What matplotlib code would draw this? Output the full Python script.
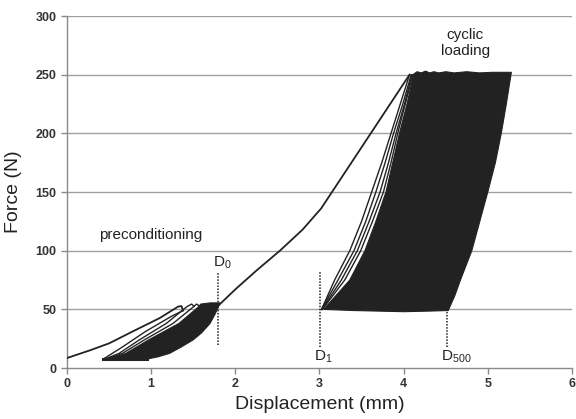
import matplotlib
matplotlib.use("Agg")
import matplotlib.pyplot as plt

plt.rcParams["font.family"] = ["Liberation Sans", "DejaVu Sans"]

INK = "#222222"
GRID = "#a0a0a0"
AXIS = "#8a8a8a"

# ── data (displacement mm, force N) ─────────────────────────────────────────

# first loading up to the first preconditioning peak
load0_x = [0.0, 0.27, 0.50, 0.79, 1.10, 1.32, 1.36, 1.38]
load0_y = [8.5, 15.0, 21.0, 31.5, 42.5, 52.3, 52.8, 49.0]

# a few separate preconditioning loops (before they merge)
pre1_x = [0.43, 0.65, 0.93, 1.24, 1.38]
pre1_y = [7.6, 17.5, 31.0, 44.0, 49.0]
pre2_x = [0.45, 0.62, 0.86, 1.18, 1.42, 1.48, 1.51]
pre2_y = [7.6, 12.5, 24.0, 38.0, 52.0, 54.5, 52.5]
pre3_x = [0.47, 0.66, 0.92, 1.26, 1.50, 1.54, 1.57]
pre3_y = [7.6, 12.5, 24.0, 38.0, 52.0, 54.5, 53.0]

# dense preconditioning band (outline)
pre_band_x = [0.48, 0.70, 0.97, 1.33, 1.56, 1.59, 1.70, 1.82,
              1.76, 1.70, 1.60, 1.50, 1.36, 1.22, 1.08, 0.95]
pre_band_y = [7.6, 12.5, 24.0, 38.0, 52.0, 54.5, 55.5, 55.5,
              46.0, 38.0, 30.0, 24.0, 18.0, 12.5, 9.5, 7.6]
pre_floor_x = [0.43, 0.95]
pre_floor_y = [7.6, 7.6]

# loading from D0 through the kink to the first cyclic peak
load1_x = [1.81, 2.00, 2.25, 2.53, 2.80, 3.02, 4.07]
load1_y = [54.0, 67.0, 83.0, 100.0, 118.0, 136.0, 250.0]

# first cyclic loops fanning out of D1
fan_y = [50, 75, 100, 125, 150, 175, 200, 225, 250]
fan1_x = [3.025, 3.18, 3.36, 3.50, 3.62, 3.74, 3.85, 3.96, 4.07]
fan2_x = [3.025, 3.22, 3.41, 3.55, 3.67, 3.78, 3.88, 3.99, 4.09]
fan3_x = [3.03, 3.26, 3.45, 3.59, 3.72, 3.82, 3.91, 4.01, 4.10]
fan4_x = [3.035, 3.30, 3.49, 3.63, 3.76, 3.85, 3.93, 4.02, 4.11]

# dense cyclic band (outline, counter-clockwise from D1 side)
cyc_band_x = [3.05, 3.36, 3.54, 3.67, 3.79, 3.87, 3.95, 4.04, 4.12,
              4.16, 4.21, 4.26, 4.31, 4.36, 4.42, 4.50, 4.60, 4.75, 4.90, 5.05, 5.28,
              5.22, 5.16, 5.09, 5.00, 4.905, 4.81, 4.675, 4.61, 4.53,
              4.30, 4.00, 3.70, 3.40]
cyc_band_y = [50.0, 75.0, 100.0, 125.0, 150.0, 175.0, 200.0, 225.0, 250.5,
              252.5, 251.5, 253.0, 251.5, 252.5, 251.5, 252.5, 251.5, 252.5, 251.5, 252.0, 252.0,
              225.0, 200.0, 175.0, 150.0, 125.0, 100.0, 75.0, 62.0, 49.0,
              48.5, 48.0, 48.5, 49.0]

# dotted markers and their labels
marks_x = [1.80, 3.01, 4.52]
marks_lo = [20, 18, 18]
marks_hi = [82, 82, 82]
mark_labels = [r"D$_{\mathregular{0}}$", r"D$_{\mathregular{1}}$", r"D$_{\mathregular{500}}$"]
mark_label_xy = [(1.84, 90), (3.04, 10), (4.63, 10)]

x_ticks = [0, 1, 2, 3, 4, 5, 6]
y_ticks = [0, 50, 100, 150, 200, 250, 300]

# ── figure ───────────────────────────────────────────────────────────────────

fig = plt.figure(figsize=(5.76, 4.19), dpi=100)
ax = fig.add_axes([0.1163, 0.1217, 0.8767, 0.8401])
ax.set_xlim(0, 6)
ax.set_ylim(0, 300)

for yv in y_ticks[1:]:
    ax.axhline(yv, color=GRID, lw=1.0, zorder=0)

ax.fill(pre_band_x, pre_band_y, color=INK, lw=0.8, zorder=2)
ax.plot(pre_floor_x, pre_floor_y, color=INK, lw=2.2, zorder=2)
for xs, ys in [(pre1_x, pre1_y), (pre2_x, pre2_y), (pre3_x, pre3_y)]:
    ax.plot(xs, ys, color=INK, lw=1.0, zorder=2)
ax.plot(load0_x, load0_y, color=INK, lw=1.3, zorder=3)
ax.plot(load1_x, load1_y, color=INK, lw=1.3, zorder=3)

ax.fill(cyc_band_x, cyc_band_y, color=INK, lw=0.8, zorder=2)
for xs in [fan1_x, fan2_x, fan3_x, fan4_x]:
    ax.plot(xs, fan_y, color=INK, lw=1.0, zorder=2)

for xv, lo, hi in zip(marks_x, marks_lo, marks_hi):
    ax.plot([xv, xv], [lo, hi], color=INK, lw=1.1, ls=(0, (1, 1)), zorder=4)
for lab, (tx, ty) in zip(mark_labels, mark_label_xy):
    ax.text(tx, ty, lab, ha="center", va="center", fontsize=11, color=INK)

ax.text(1.0, 113, "preconditioning", ha="center", va="center", fontsize=11, color=INK)
ax.text(4.73, 277, "cyclic\nloading", ha="center", va="center", fontsize=11,
        color=INK, linespacing=1.2)

ax.set_xticks(x_ticks)
ax.set_yticks(y_ticks)
ax.tick_params(colors=AXIS, labelcolor="#333333", labelsize=9, length=4, width=1)
for lab in ax.get_xticklabels() + ax.get_yticklabels():
    lab.set_fontweight("bold")

for side in ("top", "right"):
    ax.spines[side].set_visible(False)
for side in ("left", "bottom"):
    ax.spines[side].set_color(AXIS)
    ax.spines[side].set_linewidth(1.0)

ax.set_xlabel("Displacement (mm)", fontsize=14, color=INK, labelpad=4)
ax.set_ylabel("Force (N)", fontsize=14, color=INK, labelpad=10)

fig.savefig("out.png", dpi=100)
